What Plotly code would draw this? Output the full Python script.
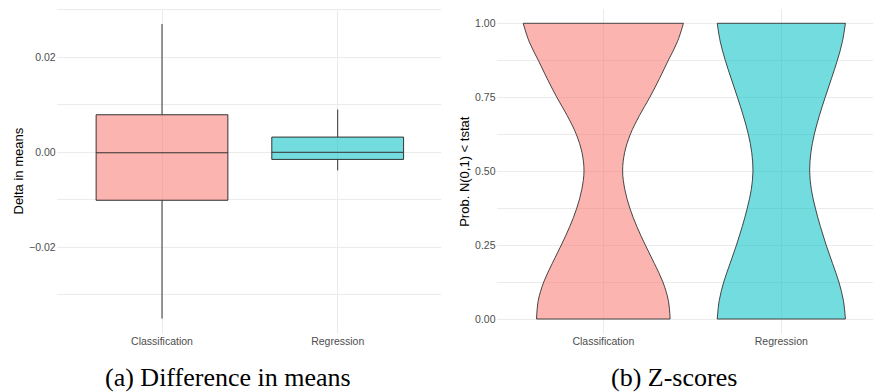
import plotly.graph_objects as go

# ---------------- data ----------------
categories = ["Classification", "Regression"]
cat_pos = [1, 2]

# (a) difference in means - box summary statistics
box_lower = [-0.0350, -0.0038]
box_q1 = [-0.0101, -0.0015]
box_median = [-0.0001, 0.0000]
box_q3 = [0.0079, 0.0032]
box_upper = [0.0270, 0.0090]

# (b) z-scores - violin density profiles (relative density, largest = 1)
violin_y = [0.0, 0.0625, 0.125, 0.1875, 0.25, 0.3125, 0.375, 0.4375, 0.5,
            0.5625, 0.625, 0.6875, 0.75, 0.8125, 0.875, 0.9375, 1.0]
dens_classification = [0.834, 0.812, 0.744, 0.638, 0.525, 0.419, 0.331, 0.269, 0.241,
                       0.266, 0.338, 0.450, 0.581, 0.700, 0.812, 0.925, 1.000]
dens_regression = [0.800, 0.775, 0.719, 0.640, 0.560, 0.488, 0.425, 0.375, 0.354,
                   0.369, 0.412, 0.475, 0.548, 0.625, 0.700, 0.762, 0.800]

left_ticks = [-0.02, 0.0, 0.02]
left_ticktext = ["\u22120.02", "0.00", "0.02"]
left_minor = [-0.03, -0.01, 0.01, 0.03]
right_ticks = [0.0, 0.25, 0.5, 0.75, 1.0]
right_ticktext = ["0.00", "0.25", "0.50", "0.75", "1.00"]
right_minor = [0.125, 0.375, 0.625, 0.875]

# ---------------- style ----------------
fills = ["rgba(248,118,109,0.55)", "rgba(0,191,196,0.55)"]
edge = "#333333"
grid = "#EBEBEB"
tickc = "#4D4D4D"
sans = "Liberation Sans, Arial, sans-serif"
serif = "Liberation Serif, Times New Roman, serif"

# the page places the figure 8px from the top-left corner (body margin)
OFF = 8
W, H = 881 - OFF, 392 - OFF
VIOLIN_HALF = 0.45


def px(xp):
    return (xp - OFF) / W


def py(yp):
    return (H - (yp - OFF)) / H


fig = go.Figure()

# boxes
for i, cat in enumerate(categories):
    fig.add_trace(go.Box(
        x=[cat_pos[i]], q1=[box_q1[i]], median=[box_median[i]], q3=[box_q3[i]],
        lowerfence=[box_lower[i]], upperfence=[box_upper[i]],
        width=0.75, whiskerwidth=0, boxpoints=False,
        fillcolor=fills[i], line=dict(color=edge, width=1),
        name=cat, showlegend=False, xaxis="x", yaxis="y", hoverinfo="skip"))

# violins
for i, (cat, dens) in enumerate(zip(categories, [dens_classification, dens_regression])):
    c = cat_pos[i]
    xl = [c - d * VIOLIN_HALF for d in dens]
    xr = [c + d * VIOLIN_HALF for d in dens]
    fig.add_trace(go.Scatter(
        x=xl, y=violin_y, mode="lines", line=dict(color=edge, width=0.9, shape="spline", smoothing=1.0),
        showlegend=False, xaxis="x2", yaxis="y2", hoverinfo="skip"))
    fig.add_trace(go.Scatter(
        x=xr, y=violin_y, mode="lines", line=dict(color=edge, width=0.9, shape="spline", smoothing=1.0),
        fill="tonextx", fillcolor=fills[i],
        showlegend=False, xaxis="x2", yaxis="y2", hoverinfo="skip"))
    fig.add_trace(go.Scatter(
        x=[xl[0], xr[0], None, xl[-1], xr[-1]],
        y=[violin_y[0], violin_y[0], None, violin_y[-1], violin_y[-1]],
        mode="lines", line=dict(color=edge, width=0.9),
        showlegend=False, xaxis="x2", yaxis="y2", hoverinfo="skip"))

ydom = [py(333.8), py(8.5)]

common_x = dict(tickvals=cat_pos, ticktext=categories, showgrid=True, gridcolor=grid,
                gridwidth=1.1, zeroline=False, showline=False, ticks="",
                tickfont=dict(family=sans, size=10.5, color=tickc))
common_y = dict(showgrid=True, gridcolor=grid, gridwidth=1.1, zeroline=False,
                showline=False, ticks="", tickfont=dict(family=sans, size=10.5, color=tickc))

fig.update_layout(
    width=W, height=H,
    margin=dict(l=0, r=0, t=0, b=0),
    paper_bgcolor="white", plot_bgcolor="white",
    boxmode="overlay",
    showlegend=False,
    xaxis=dict(domain=[px(56.6), px(441)], range=[0.4, 2.588], anchor="y", **common_x),
    yaxis=dict(domain=ydom, range=[-0.03821, 0.03027], anchor="x",
               tickvals=left_ticks, ticktext=left_ticktext,
               minor=dict(tickvals=left_minor, showgrid=True, gridcolor=grid, gridwidth=0.6),
               **common_y),
    xaxis2=dict(domain=[px(496.5), 1.0], range=[0.4, 2.56], anchor="y2", **common_x),
    yaxis2=dict(domain=ydom, range=[-0.05, 1.05], anchor="x2",
                tickvals=right_ticks, ticktext=right_ticktext,
                minor=dict(tickvals=right_minor, showgrid=True, gridcolor=grid, gridwidth=0.6),
                **common_y),
    annotations=[
        dict(text="Delta in means", x=px(17.5), y=py(171), xref="paper", yref="paper",
             textangle=-90, showarrow=False, xanchor="center", yanchor="middle",
             font=dict(family=sans, size=13, color="black")),
        dict(text="Prob. N(0,1) < tstat", x=px(463.8), y=py(171), xref="paper", yref="paper",
             textangle=-90, showarrow=False, xanchor="center", yanchor="middle",
             font=dict(family=sans, size=13, color="black")),
        dict(text="(a) Difference in means", x=px(227.5), y=py(377), xref="paper", yref="paper",
             showarrow=False, xanchor="center", yanchor="middle",
             font=dict(family=serif, size=26, color="black")),
        dict(text="(b) Z-scores", x=px(673.8), y=py(377), xref="paper", yref="paper",
             showarrow=False, xanchor="center", yanchor="middle",
             font=dict(family=serif, size=26, color="black")),
    ],
)

fig.write_html("out.html")
